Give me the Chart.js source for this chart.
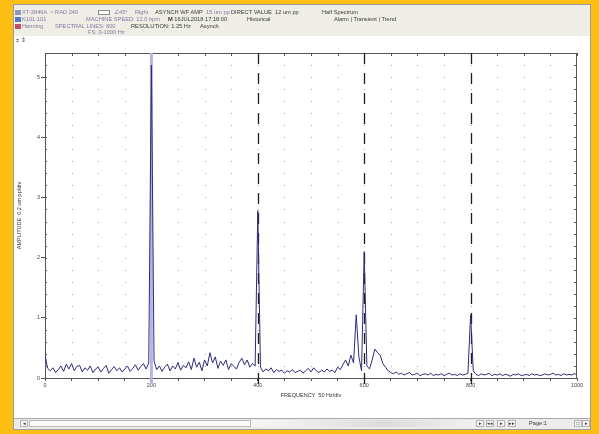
<!DOCTYPE html>
<html>
<head>
<meta charset="utf-8">
<script src="https://cdn.jsdelivr.net/npm/chart.js@4.4.1/dist/chart.umd.min.js"></script>
<style>
  body { margin: 0; width: 599px; height: 434px; background: #fdbf14; position: relative; overflow: hidden;
         font-family: "Liberation Sans", Arial, sans-serif; }
  #win { position: absolute; left: 13px; top: 4px; width: 578px; height: 426px; background: #fff;
         border: 1px solid #9c9c9c; box-sizing: border-box; }
  #hdr { position: absolute; left: 14px; top: 5px; width: 576px; height: 31px; background: #eeede6; }
  #bar { position: absolute; left: 14px; top: 418px; width: 576px; height: 11px; background: #ececec;
         border-top: 1px solid #a8a8a8; box-sizing: border-box; }
  canvas { position: absolute; left: 0; top: 0; }
  .t { position: absolute; font-size: 5.7px; line-height: 7px; white-space: nowrap; color: #85799f; }
  .d { color: #3a3a3a; }
  .ico { position: absolute; width: 6px; height: 5px; }
  .btn { position: absolute; top: 420px; height: 7px; width: 8px; border: 1px solid #b4b4b4; box-sizing: border-box;
         background: #f4f4f4; font-size: 5px; line-height: 5px; text-align: center; color: #333; }
</style>
</head>
<body>
<div id="win"></div>
<div id="hdr"></div>
<div id="bar"></div>
<div style="position:absolute;left:29px;top:420px;width:222px;height:7px;border:1px solid #b8b8b8;box-sizing:border-box;background:#fafafa"></div>
<div style="position:absolute;left:251px;top:420px;width:224px;height:7px;background:linear-gradient(90deg,#f6f6f6,#dcdcdc 60%,#f0f0f0)"></div>

<canvas id="spectrum" width="599" height="434"></canvas>

<!-- header -->
<div class="ico" style="left:15px;top:10px;background:#8d97b8"></div>
<div class="t" style="left:22px;top:9px">XT-3846A &nbsp;&lt; RAD 240</div>
<div style="position:absolute;left:98px;top:10px;width:12px;height:5px;border:1px solid #8a8a8a;box-sizing:border-box;background:#fff"></div>
<div class="t" style="left:114px;top:9px">&ang;45°</div>
<div class="t" style="left:135px;top:9px">Right</div>
<div class="t d" style="left:155px;top:9px">ASYNCH WF AMP</div>
<div class="t" style="left:206px;top:9px">15 um pp</div>
<div class="t d" style="left:231px;top:9px">DIRECT VALUE</div>
<div class="t d" style="left:275px;top:9px">12 um pp</div>
<div class="t d" style="left:322px;top:9px">Half Spectrum</div>

<div class="ico" style="left:15px;top:17px;background:#5c78c0"></div>
<div class="t" style="left:22px;top:16px">K101 101</div>
<div class="t" style="left:86px;top:16px">MACHINE SPEED: 12.0 hpm</div>
<div class="t d" style="left:168px;top:16px"><b>M</b> 16JUL2018 17:18:00</div>
<div class="t d" style="left:247px;top:16px">Historical</div>
<div class="t d" style="left:334px;top:16px">Alarm | Transient | Trend</div>

<div class="ico" style="left:15px;top:24px;background:#c0506a"></div>
<div class="t" style="left:22px;top:23px">Hanning</div>
<div class="t" style="left:55px;top:23px">SPECTRAL LINES: 800</div>
<div class="t d" style="left:131px;top:23px">RESOLUTION: 1.25 Hz</div>
<div class="t d" style="left:200px;top:23px">Asynch</div>

<div class="t" style="left:88px;top:29px">FS: 0-1000 Hz</div>
<div class="t d" style="left:16px;top:37px">± &#8661;</div>

<!-- status bar -->
<div class="btn" style="left:20px">&#9666;</div>
<div class="btn" style="left:476px">&#9656;</div>
<div class="btn" style="left:486px">&#9666;&#9666;</div>
<div class="btn" style="left:497px">&#9656;</div>
<div class="btn" style="left:508px">&#9656;&#9656;</div>
<div class="t d" style="left:529px;top:420px">Page:1</div>
<div class="btn" style="left:574px">&#9633;</div>
<div class="btn" style="left:582px">&#9656;</div>

<script>
// spectrum samples, one every freqStep Hz starting at 0 Hz
const freqStep = 5;
const amplitudes = [
  0.38, 0.16, 0.12, 0.17, 0.09, 0.14, 0.20, 0.11, 0.23, 0.15,   // 0-45
  0.24, 0.12, 0.19, 0.21, 0.10, 0.17, 0.13, 0.20, 0.09, 0.15,   // 50-95
  0.18, 0.10, 0.16, 0.21, 0.08, 0.14, 0.19, 0.12, 0.17, 0.10,   // 100-145
  0.15, 0.20, 0.11, 0.16, 0.22, 0.13, 0.19, 0.24, 0.15, 0.25,   // 150-195
  5.20, 0.28, 0.14, 0.20, 0.11, 0.18, 0.23, 0.12, 0.20, 0.15,   // 200-245
  0.26, 0.13, 0.21, 0.17, 0.27, 0.14, 0.33, 0.18, 0.26, 0.12,   // 250-295
  0.30, 0.20, 0.42, 0.25, 0.35, 0.16, 0.28, 0.21, 0.30, 0.14,   // 300-345
  0.24, 0.19, 0.15, 0.26, 0.33, 0.22, 0.30, 0.18, 0.24, 0.20,   // 350-395
  2.78, 0.18, 0.10, 0.15, 0.12, 0.17, 0.09, 0.14, 0.11, 0.13,   // 400-445
  0.08, 0.12, 0.10, 0.14, 0.09, 0.11, 0.13, 0.08, 0.12, 0.16,   // 450-495
  0.10, 0.17, 0.12, 0.09, 0.13, 0.10, 0.15, 0.11, 0.13, 0.09,   // 500-545
  0.18, 0.14, 0.22, 0.30, 0.20, 0.38, 0.25, 1.05, 0.35, 0.12,   // 550-595
  2.10, 0.20, 0.15, 0.30, 0.48, 0.42, 0.38, 0.24, 0.18, 0.12,   // 600-645
  0.09, 0.07, 0.10, 0.06, 0.08, 0.05, 0.07, 0.09, 0.05, 0.06,   // 650-695
  0.08, 0.04, 0.06, 0.07, 0.05, 0.08, 0.04, 0.06, 0.05, 0.07,   // 700-745
  0.04, 0.06, 0.08, 0.05, 0.06, 0.04, 0.07, 0.05, 0.06, 0.08,   // 750-795
  1.05, 0.12, 0.06, 0.04, 0.07, 0.05, 0.06, 0.08, 0.04, 0.06,   // 800-845
  0.05, 0.07, 0.04, 0.06, 0.05, 0.03, 0.06, 0.05, 0.07, 0.04,   // 850-895
  0.05, 0.06, 0.04, 0.07, 0.05, 0.06, 0.04, 0.05, 0.07, 0.05,   // 900-945
  0.06, 0.08, 0.05, 0.06, 0.04, 0.07, 0.05, 0.06, 0.05, 0.07,   // 950-995
  0.06                                                          // 1000
];
const cursorHz = 200;
const harmonicsHz = [400, 600, 800];
const freqMax = 1000;
const ampMax = 5.4;

const isWhole = v => Math.abs(v - Math.round(v)) < 1e-6;

// dotted grid, inward ticks on the frame, cursor and harmonic markers
const plotDecor = {
  id: 'plotDecor',
  beforeDatasetsDraw(chart) {
    const { ctx, chartArea: a, scales: { x, y } } = chart;
    ctx.save();

    ctx.fillStyle = '#a6a6a6';
    x.ticks.forEach(tx => {
      const px = Math.round(x.getPixelForValue(tx.value));
      if (px <= a.left + 1 || px >= a.right - 1) return;
      y.ticks.forEach(ty => {
        const py = Math.round(y.getPixelForValue(ty.value));
        if (py <= a.top + 1 || py >= a.bottom - 1) return;
        ctx.fillRect(px, py, 1, 1);
      });
    });

    ctx.strokeStyle = '#555';
    ctx.lineWidth = 1;
    ctx.beginPath();
    ctx.moveTo(a.left, a.top + 0.5);
    ctx.lineTo(a.right, a.top + 0.5);
    ctx.moveTo(a.right - 0.5, a.top);
    ctx.lineTo(a.right - 0.5, a.bottom);
    x.ticks.forEach(tx => {
      const px = Math.round(x.getPixelForValue(tx.value)) + 0.5;
      ctx.moveTo(px, a.top);
      ctx.lineTo(px, a.top + 3);
    });
    y.ticks.forEach(ty => {
      const py = Math.round(y.getPixelForValue(ty.value)) + 0.5;
      ctx.moveTo(a.right, py);
      ctx.lineTo(a.right - 3, py);
      ctx.moveTo(a.left, py);
      ctx.lineTo(a.left + 2, py);
    });
    ctx.stroke();

    const cx = x.getPixelForValue(cursorHz);
    ctx.strokeStyle = '#b3b4e8';
    ctx.lineWidth = 3;
    ctx.beginPath();
    ctx.moveTo(cx, a.top);
    ctx.lineTo(cx, a.bottom + 6);
    ctx.stroke();

    ctx.strokeStyle = '#1e1e1e';
    ctx.lineWidth = 1.3;
    ctx.setLineDash([11, 9]);
    harmonicsHz.forEach(h => {
      const hx = Math.round(x.getPixelForValue(h)) + 0.5;
      ctx.beginPath();
      ctx.moveTo(hx, a.top);
      ctx.lineTo(hx, a.bottom + 6);
      ctx.stroke();
    });
    ctx.restore();
  }
};

new Chart(document.getElementById('spectrum'), {
  type: 'line',
  data: {
    datasets: [{
      data: amplitudes.map((amp, i) => ({ x: i * freqStep, y: amp })),
      borderColor: '#2c2c78',
      borderWidth: 1,
      pointRadius: 0,
      tension: 0,
      fill: false
    }]
  },
  options: {
    responsive: false,
    animation: false,
    devicePixelRatio: 1,
    layout: { padding: { left: 14, top: 53, right: 22, bottom: 26 } },
    plugins: { legend: { display: false }, tooltip: { enabled: false } },
    scales: {
      x: {
        type: 'linear',
        min: 0,
        max: freqMax,
        afterFit: s => { s.height = 30; },
        ticks: {
          stepSize: 50,
          autoSkip: false,
          maxRotation: 0,
          padding: 1,
          color: '#444',
          font: { family: 'Liberation Sans', size: 5.5 },
          callback: v => (v % 200 === 0 ? String(v) : '')
        },
        grid: { drawOnChartArea: false, tickLength: 3, color: '#555' },
        border: { color: '#555' },
        title: {
          display: true,
          text: 'FREQUENCY  50 Hz/div',
          color: '#333',
          font: { family: 'Liberation Sans', size: 5.5 },
          padding: { top: 0, bottom: 9 }
        }
      },
      y: {
        min: 0,
        max: ampMax,
        afterFit: s => { s.width = 31; },
        ticks: {
          stepSize: 0.2,
          autoSkip: false,
          padding: 1,
          color: '#444',
          font: { family: 'Liberation Sans', size: 5.5 },
          callback: v => (isWhole(v) ? String(Math.round(v)) : '')
        },
        grid: {
          drawOnChartArea: false,
          tickLength: 4,
          tickColor: c => (isWhole(c.tick.value) ? '#555' : 'rgba(0,0,0,0)')
        },
        border: { color: '#555' },
        title: {
          display: true,
          text: 'AMPLITUDE  0.2 um pp/div',
          color: '#333',
          font: { family: 'Liberation Sans', size: 5.5 },
          padding: { top: 2, bottom: 0 }
        }
      }
    }
  },
  plugins: [plotDecor]
});
</script>
</body>
</html>
